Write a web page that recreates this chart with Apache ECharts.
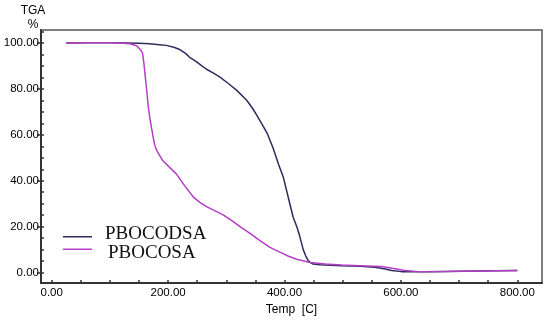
<!DOCTYPE html>
<html>
<head>
<meta charset="utf-8">
<script src="https://cdn.jsdelivr.net/npm/echarts@6/dist/echarts.min.js"></script>
<style>html,body{margin:0;padding:0;background:#fff}#c{width:550px;height:321px}</style>
</head>
<body>
<div id="c"></div>
<script>
var seriesNames = ['PBOCODSA', 'PBOCOSA'];
var pbocodsaTemp = [25,60,100,130,150,168,185,197,210,220,230,237,249,258,266,278,289,303,318,335,345,352,361,370,380,390,398,409,415,421,426,432,436,440,444,449,461,498,530,555,573,584,601,641,700,760,800];
var pbocodsaMass = [100,100.1,100.1,100,99.9,99.7,99.3,99,98.2,97.2,95.5,93.8,91.8,90.1,88.6,86.9,85.2,82.5,79.4,75.1,71.6,68.7,64.8,60.8,54.5,47,41.5,30.1,24,20.1,16,10.1,7.5,5.5,4.4,3.7,3.4,3.0,2.7,2.3,1.5,0.9,0.4,0.4,0.6,0.8,0.9];
var pbocosaTemp = [25,60,100,117,134,146,152.5,156,158.5,160,163,165.6,168.5,171.5,174.6,177,180,185.7,191,200,214,228,243,255,266,280,294.6,310,323,340,357.7,375,392,406,421,433,444,470,498,540,567,590,607,630,680,740,800];
var pbocosaMass = [100,100.1,100.1,100,99.7,98.8,97.1,95.7,91,87.2,80,73,67.5,63,58.7,55.5,53.5,51,48.7,46.5,43,38,33,30.5,28.7,27,25.1,22.5,20.1,17.2,13.9,11,8.9,7.2,5.8,5,4.4,3.7,3.3,2.9,2.6,1.7,0.9,0.4,0.5,0.7,0.9];
var xLabelValues = [0,200,400,600,800];
var xTickValues = [0,50,100,150,200,250,300,350,400,450,500,550,600,650,700,750,800];
var yLabelValues = [0,20,40,60,80,100];
var yTickValues = [0,5,10,15,20,25,30,35,40,45,50,55,60,65,70,75,80,85,90,95,100,105];

function zip(a, b) { return a.map(function (v, i) { return [v, b[i]]; }); }
var colors = ['#2b2d5e', '#b43ec4'];
var chart = echarts.init(document.getElementById('c'));
var lblFont = { fontFamily: 'Liberation Sans, Arial, sans-serif', fontSize: 11.5, color: '#000' };
var legendText = { fontFamily: 'Liberation Serif, Times New Roman, serif', fontSize: 19, color: '#111' };
chart.setOption({
  animation: false,
  grid: { left: 41, top: 30, width: 501, height: 258, show: true, borderColor: '#555', borderWidth: 1.5, containLabel: false },
  xAxis: {
    type: 'value', min: -18.4, max: 842.4,
    name: 'Temp  [C]', nameLocation: 'middle', nameGap: 19,
    nameTextStyle: Object.assign({}, lblFont, { fontSize: 12 }),
    axisLine: { show: true, onZero: false, lineStyle: { color: '#333', width: 2 } },
    axisTick: { show: true, inside: true, length: 3, customValues: xTickValues, lineStyle: { color: '#333', width: 1.5 } },
    axisLabel: Object.assign({ customValues: xLabelValues, margin: 4, formatter: function (v) { return v.toFixed(2); } }, lblFont),
    splitLine: { show: false }
  },
  yAxis: [{
    type: 'value', min: -4.6, max: 105.7,
    name: 'TGA\n%', nameLocation: 'end', nameGap: -2,
    nameTextStyle: Object.assign({}, lblFont, { fontSize: 12, align: 'center', padding: [0, 16, 0, 0], lineHeight: 14 }),
    axisLine: { show: true, onZero: false, lineStyle: { color: '#333', width: 2 } },
    axisTick: { show: true, inside: false, length: 4, customValues: yLabelValues, lineStyle: { color: '#333', width: 1.5 } },
    axisLabel: Object.assign({ customValues: yLabelValues, margin: 2, formatter: function (v) { return v.toFixed(2); } }, lblFont),
    splitLine: { show: false }
  }, {
    type: 'value', min: -4.6, max: 105.7, position: 'left',
    axisLine: { show: false, onZero: false },
    axisTick: { show: true, inside: true, length: 3, customValues: yTickValues, lineStyle: { color: '#333', width: 1.5 } },
    axisLabel: { show: false },
    splitLine: { show: false }
  }],
  legend: [{
    data: [seriesNames[0]], left: 58, top: 220, orient: 'vertical',
    icon: 'path://M0,0L0.05,0L0,0.05Z M0,4.5L29,4.5L29,6L0,6Z', itemWidth: 29, itemHeight: 6,
    textStyle: Object.assign({ padding: [0, 0, 0, 8] }, legendText)
  }, {
    data: [seriesNames[1]], left: 58, top: 238.5, orient: 'vertical',
    icon: 'path://M0,0L29,0L29,1.5L0,1.5Z M0,9L0.05,9L0,8.95Z', itemWidth: 29, itemHeight: 9,
    textStyle: Object.assign({ padding: [0, 0, 0, 11] }, legendText)
  }],
  series: [{
    name: seriesNames[0], type: 'line', data: zip(pbocodsaTemp, pbocodsaMass),
    showSymbol: false, smooth: false,
    lineStyle: { color: colors[0], width: 1.5 }, itemStyle: { color: colors[0] }
  }, {
    name: seriesNames[1], type: 'line', data: zip(pbocosaTemp, pbocosaMass),
    showSymbol: false, smooth: false,
    lineStyle: { color: colors[1], width: 1.5 }, itemStyle: { color: colors[1] }
  }]
});
</script>
</body>
</html>
